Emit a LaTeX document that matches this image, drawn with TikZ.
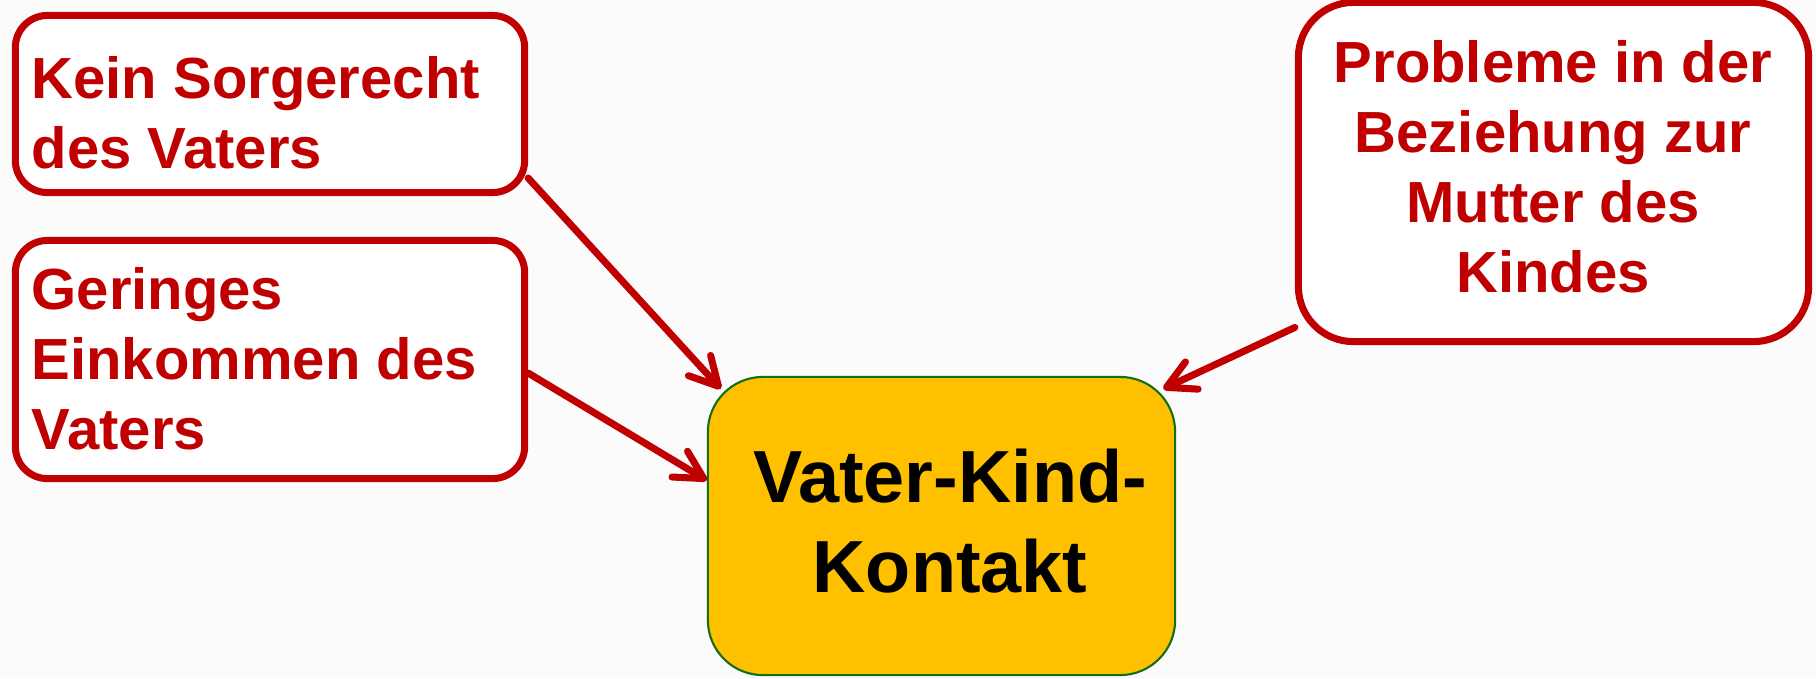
\documentclass[tikz,border=0pt]{standalone}
\usepackage{fontspec}
\setmainfont{Liberation Sans}
\usetikzlibrary{arrows.meta}
\definecolor{boxred}{RGB}{192,0,0}
\definecolor{kontaktgold}{RGB}{255,192,0}
\definecolor{kontaktgreen}{RGB}{20,110,20}
\definecolor{bggrey}{RGB}{251,251,251}
\begin{document}
\begin{tikzpicture} [x=0.01cm,y=-0.01cm,
    redbox/.style={rectangle,draw=boxred,line width=2pt,fill=white,inner sep=0pt},
    redtext/.style={inner sep=0pt,text=boxred,font=\fontsize{16.5}{19.9}\selectfont\bfseries},
    pfeil/.style={draw=boxred,line width=2pt,line cap=round,-{Straight Barb[length=0.28cm,width=0.3cm,round]}}]
%background
        \fill[bggrey] (0,0) rectangle (1816,678);
        \useasboundingbox (0,0) rectangle (1816,678);
%causes
        \node[redbox,rounded corners=0.32cm,minimum width=5.09cm,minimum height=1.77cm] (sorge) at (270,104) {};
        \node[redbox,rounded corners=0.32cm,minimum width=5.09cm,minimum height=2.38cm] (einkommen) at (270,359.5) {};
        \node[redbox,rounded corners=0.55cm,minimum width=5.10cm,minimum height=3.39cm] (probleme) at (1553.5,172) {};
        \node[redtext,anchor=west,align=left] (sorgetext) at (31,113) {Kein Sorgerecht\\des Vaters};
        \node[redtext,anchor=west,align=left] (einkommentext) at (31,359) {Geringes\\Einkommen des\\Vaters};
        \node[redtext,align=center] (problemetext) at (1553,167) {Probleme in der\\Beziehung zur\\Mutter des\\Kindes};
%effect
        \node[rectangle,draw=kontaktgreen,line width=0.6pt,fill=kontaktgold,rounded corners=0.55cm,
              minimum width=4.67cm,minimum height=2.98cm] (kontakt) at (941.5,526) {};
        \node[inner sep=0pt,align=center,font=\fontsize{21}{25.6}\selectfont\bfseries] (kontakttext) at (950,521.5) {Vater-Kind-\\Kontakt};
%arrows
        \draw [pfeil] (sorge.-16.3) -- ([shift={(14,13)}]kontakt.north west);
        \draw [pfeil] (einkommen.-3.7) -- (kontakt.169);
        \draw [pfeil] (probleme.211.7) -- ([shift={(-13,13)}]kontakt.north east);
\end{tikzpicture}
\end{document}
